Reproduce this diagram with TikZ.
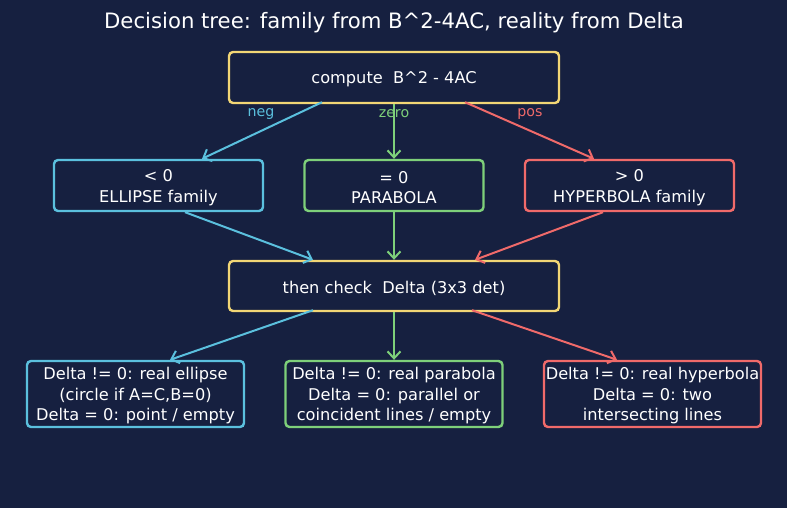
\documentclass[tikz,border=0pt]{standalone}
\usepackage{fontspec}
\setmainfont{DejaVu Sans}
\usetikzlibrary{calc,arrows.meta}
\definecolor{bg}{HTML}{162040}
\definecolor{cyel}{HTML}{F2D675}
\definecolor{ccyan}{HTML}{5BC0DE}
\definecolor{cgreen}{HTML}{7ED07A}
\definecolor{cred}{HTML}{F06A6A}
\tikzset{
  box/.style={draw=#1, line width=2.4pt, rounded corners=4pt, fill=bg, inner sep=0pt},
  txt/.style={text=white, align=center, inner sep=0pt, font=\fontsize{16.2}{20.5}\selectfont},
  conn/.style={draw=#1, line width=2pt, -{Straight Barb[length=7pt,width=13pt,line width=2pt]}},
  lbl/.style={text=#1, font=\fontsize{14.2}{16}\selectfont},
}
\begin{document}
\begin{tikzpicture}[x=1pt,y=-1pt]
\fill[bg] (0,0) rectangle (787,508);
\useasboundingbox (0,0) rectangle (787,508);
\node[text=white, font=\fontsize{21.2}{24}\selectfont] (title) at (394,23) {Decision tree: family from B\^{}2-4AC, reality from Delta};
\node[box=cyel, minimum width=330pt, minimum height=51pt] (top) at (394,77.5) {};
\node[box=ccyan, minimum width=209pt, minimum height=51pt] (neg) at (158.5,185.5) {};
\node[box=cgreen, minimum width=179pt, minimum height=51pt] (zero) at (394,185.5) {};
\node[box=cred, minimum width=209pt, minimum height=51pt] (pos) at (629.5,185.5) {};
\node[box=cyel, minimum width=330pt, minimum height=50pt] (chk) at (394,286) {};
\node[box=ccyan, minimum width=217pt, minimum height=66pt] (bl) at (135.5,394) {};
\node[box=cgreen, minimum width=217pt, minimum height=66pt] (bm) at (394,394) {};
\node[box=cred, minimum width=217pt, minimum height=66pt] (br) at (652.5,394) {};
\node[txt] (topt) at ($(top)+(0,2)$) {compute\ \ B\^{}2 - 4AC};
\node[txt] (negt) at ($(neg)+(0,2)$) {< 0\\ELLIPSE family};
\node[txt] (zerot) at ($(zero)+(0,2)$) {= 0\\PARABOLA};
\node[txt] (post) at ($(pos)+(0,2)$) {> 0\\HYPERBOLA family};
\node[txt] (chkt) at ($(chk)+(0,2)$) {then check\ \ Delta (3x3 det)};
\node[txt] (blt) at ($(bl)+(0,2)$) {Delta != 0: real ellipse\\(circle if A=C,B=0)\\Delta = 0: point / empty};
\node[txt] (bmt) at ($(bm)+(0,2)$) {Delta != 0: real parabola\\Delta = 0: parallel or\\coincident lines / empty};
\node[txt] (brt) at ($(br)+(0,2)$) {Delta != 0: real hyperbola\\Delta = 0: two\\intersecting lines};
\draw[conn=ccyan] ($(top.south)+(-72,-2)$) -- ($(neg.north)+(43.5,0)$);
\draw[conn=cgreen] (top.south) -- (zero.north);
\draw[conn=cred] ($(top.south)+(71,-2)$) -- ($(pos.north)+(-35.5,0)$);
\node[lbl=ccyan] (lneg) at (261,114) {neg};
\node[lbl=cgreen] (lzero) at (394,114) {zero};
\node[lbl=cred] (lpos) at (530,114) {pos};
\draw[conn=ccyan] ($(neg.south)+(26.5,0)$) -- ($(chk.north)+(-81,0)$);
\draw[conn=cgreen] (zero.south) -- (chk.north);
\draw[conn=cred] ($(pos.south)+(-26.5,0)$) -- ($(chk.north)+(81,0)$);
\draw[conn=ccyan] ($(chk.south)+(-81,-2)$) -- ($(bl.north)+(34.5,0)$);
\draw[conn=cgreen] (chk.south) -- (bm.north);
\draw[conn=cred] ($(chk.south)+(78,-2)$) -- ($(br.north)+(-35.5,0)$);
\end{tikzpicture}
\end{document}
